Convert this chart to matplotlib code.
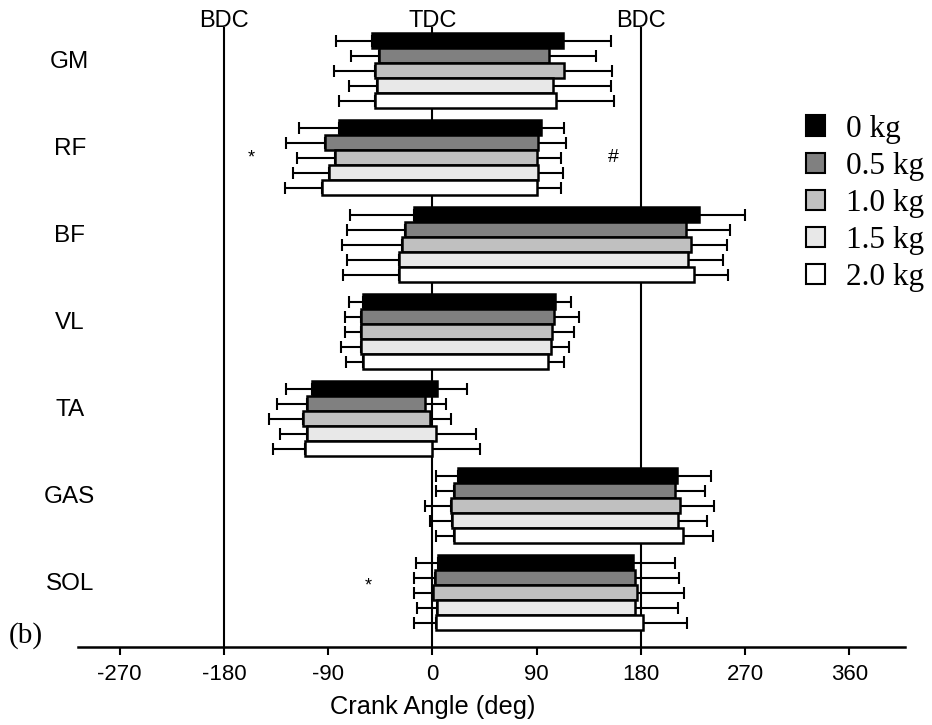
import matplotlib
matplotlib.use("Agg")
import matplotlib.pyplot as plt
from matplotlib.patches import Patch
import numpy as np

muscles = ["GM", "RF", "BF", "VL", "TA", "GAS", "SOL"]
loads = ["0 kg", "0.5 kg", "1.0 kg", "1.5 kg", "2.0 kg"]
colors = ["#000000", "#808080", "#c0c0c0", "#e8e8e8", "#ffffff"]

# onset / offset mean angles (deg) per load, muscles in order above
onset_0kg   = [-52, -81, -16, -60, -104, 22, 5]
onset_05kg  = [-46, -93, -24, -62, -108, 19, 2]
onset_10kg  = [-50, -84, -26, -62, -112, 16, 0.5]
onset_15kg  = [-48, -89, -29, -62, -108, 17, 4]
onset_20kg  = [-50, -95, -29, -60, -110, 19, 3.5]

offset_0kg  = [113, 94, 230, 106, 4, 211, 173]
offset_05kg = [101, 91, 219, 105, -6, 209, 175]
offset_10kg = [114, 90, 223, 103, -2, 214, 177]
offset_15kg = [104, 91, 221, 102, 3.5, 212, 175]
offset_20kg = [107, 90, 226, 100, 0, 216, 182]

# standard deviations (deg)
onset_sd_0kg   = [31, 34, 55, 12, 22, 18.5, 19]
onset_sd_05kg  = [24, 33, 50, 13.5, 26, 16, 17.5]
onset_sd_10kg  = [35, 33, 52, 13.5, 29, 22, 16]
onset_sd_15kg  = [24, 31, 45, 17, 24, 19, 17.5]
onset_sd_20kg  = [31, 32.5, 48.5, 15, 27.5, 15.5, 19]

offset_sd_0kg  = [41, 20, 39.5, 13.5, 25.5, 29.5, 36]
offset_sd_05kg = [40.5, 24, 38, 21.5, 18, 26, 38]
offset_sd_10kg = [41, 21, 31, 19.5, 18, 29.5, 40.5]
offset_sd_15kg = [50, 21.5, 30, 15.5, 34.5, 25, 37]
offset_sd_20kg = [50, 21, 29.5, 14, 41.5, 26, 37.5]

onsets = [onset_0kg, onset_05kg, onset_10kg, onset_15kg, onset_20kg]
offsets = [offset_0kg, offset_05kg, offset_10kg, offset_15kg, offset_20kg]
onset_sds = [onset_sd_0kg, onset_sd_05kg, onset_sd_10kg, onset_sd_15kg, onset_sd_20kg]
offset_sds = [offset_sd_0kg, offset_sd_05kg, offset_sd_10kg, offset_sd_15kg, offset_sd_20kg]

xticks = [-270, -180, -90, 0, 90, 180, 270, 360]
ref_lines = [-180, 0, 180]
ref_labels = ["BDC", "TDC", "BDC"]

sans = ["Liberation Sans", "DejaVu Sans"]
serif = ["Liberation Serif", "DejaVu Serif"]

W, H = 932, 725
fig = plt.figure(figsize=(W / 100, H / 100), dpi=100)
ax = fig.add_axes([78 / W, 1 - 647 / H, (905 - 78) / W, (647 - 27) / H])

step = 0.1724
ypos = np.arange(len(muscles))

for x in ref_lines:
    ax.axvline(x, color="black", lw=1.5, zorder=1)

for j in range(len(loads)):
    y = ypos + (j - 2) * step
    on = np.array(onsets[j], dtype=float)
    off = np.array(offsets[j], dtype=float)
    ax.errorbar(on, y, xerr=[onset_sds[j], np.zeros(len(y))], fmt="none",
                ecolor="black", elinewidth=1.5, capsize=4, capthick=1.5, zorder=2)
    ax.errorbar(off, y, xerr=[np.zeros(len(y)), offset_sds[j]], fmt="none",
                ecolor="black", elinewidth=1.5, capsize=4, capthick=1.5, zorder=2)
    ax.barh(y, off - on, left=on, height=step, color=colors[j],
            edgecolor="black", linewidth=1.8, zorder=3 + j * 0.01)

ax.set_xlim(-306, 408)
ax.set_ylim(len(muscles) - 1 + 0.626, -0.502)
ax.set_xticks(xticks)
ax.set_xticklabels([str(t) for t in xticks], family=sans, fontsize=16)
ax.set_yticks([])
for s in ["left", "right", "top"]:
    ax.spines[s].set_visible(False)
ax.spines["bottom"].set_linewidth(1.8)
ax.tick_params(axis="x", direction="out", length=6, width=1.5, pad=6)

for i, m in enumerate(muscles):
    ax.text(-0.01, i - 0.1, m, transform=ax.get_yaxis_transform(),
            ha="center", va="center", family=sans, fontsize=17.5)

top_y = ax.get_ylim()[1]
for x, lab in zip(ref_lines, ref_labels):
    ax.annotate(lab, xy=(x, top_y), xycoords="data", xytext=(0, -3.5),
                textcoords="offset points", ha="center", va="bottom",
                family=sans, fontsize=17, annotation_clip=False)

ax.text(-156, 1.0, "*", ha="center", va="center", family=sans, fontsize=13)
ax.text(156, 1.0, "#", ha="center", va="center", family=sans, fontsize=14)
ax.text(-55, 5.93, "*", ha="center", va="center", family=sans, fontsize=13)

fig.text(433 / W, 1 - 707 / H, "Crank Angle (deg)", ha="center", va="center",
         family=sans, fontsize=18.3)
fig.text(9 / W, 1 - 636 / H, "(b)", ha="left", va="center",
         family=serif, fontsize=21)

handles = [Patch(facecolor=c, edgecolor="black", linewidth=1.5) for c in colors]
fig.legend(handles, loads, loc="upper left",
           bbox_to_anchor=(806 / W, 1 - 114.5 / H), frameon=False,
           prop={"family": serif, "size": 22.5}, handlelength=0.61,
           handleheight=0.61, handletextpad=0.66, labelspacing=0.26,
           borderpad=0, borderaxespad=0)

fig.savefig("out.png", dpi=100)
